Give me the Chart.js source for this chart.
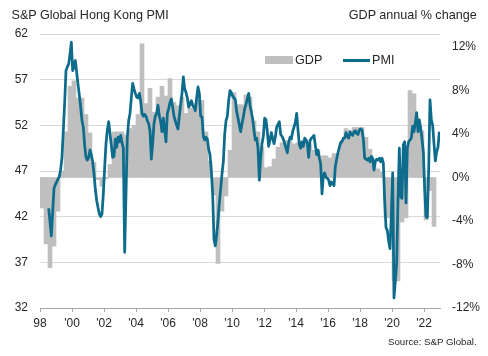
<!DOCTYPE html>
<html>
<head>
<meta charset="utf-8">
<script src="https://cdn.jsdelivr.net/npm/chart.js@4.4.1/dist/chart.umd.min.js"></script>
<style>
html,body{margin:0;padding:0;background:#fff;}
#wrap{position:relative;width:488px;height:356px;overflow:hidden;font-family:"Liberation Sans",Arial,sans-serif;color:#262626;}
#c{position:absolute;left:0;top:0;}
.t{position:absolute;white-space:nowrap;line-height:1;font-size:12.6px;}
.box{position:absolute;}
</style>
</head>
<body>
<div id="wrap">
  <canvas id="c" width="488" height="356"></canvas>
  <div class="t" style="left:11.5px;top:8.5px;">S&amp;P Global Hong Kong PMI</div>
  <div class="t" style="right:11.3px;top:8.5px;">GDP annual % change</div>
  <div class="box" style="left:265px;top:56px;width:28px;height:8px;background:#bfbfbf;"></div>
  <div class="t" style="left:295px;top:54.3px;">GDP</div>
  <div class="box" style="left:343px;top:58.5px;width:27px;height:3px;background:#0d6b8c;"></div>
  <div class="t" style="left:372px;top:54.3px;">PMI</div>
  <div class="t" style="right:11.3px;top:336.8px;font-size:9.7px;">Source: S&amp;P Global.</div>
</div>
<script>
// ---- data ----
// PMI monthly, July 1998 to December 2022
const pmiStartYear = 1998;
const pmiStartMonth = 7;
const pmi1998 = [42.9, 41.5, 39.9, 42.5, 45.1, 45.5];
const pmi1999 = [45.8, 46.1, 46.4, 47.2, 48.5, 51.5, 54.5, 58.0, 58.4, 58.7, 59.8, 61.1];
const pmi2000 = [58.0, 58.4, 59.1, 57.8, 56.5, 55.3, 54.0, 52.5, 51.8, 49.8, 48.5, 48.2];
const pmi2001 = [48.5, 49.3, 48.8, 48.0, 46.7, 45.0, 43.8, 43.0, 42.3, 42.0, 42.3, 44.5];
const pmi2002 = [47.4, 50.0, 51.5, 52.4, 51.1, 49.8, 48.5, 48.6, 50.5, 49.6, 50.7, 50.2];
const pmi2003 = [50.9, 50.1, 49.5, 38.1, 44.5, 50.7, 52.5, 53.3, 55.0, 56.6, 56.0, 55.5];
const pmi2004 = [55.1, 55.0, 55.5, 54.7, 53.3, 53.0, 53.2, 53.0, 52.5, 52.2, 51.4, 48.3];
const pmi2005 = [50.0, 52.2, 53.0, 53.3, 54.2, 53.0, 52.4, 51.3, 52.8, 51.5, 50.2, 53.3];
const pmi2006 = [53.8, 54.5, 54.9, 54.0, 53.0, 52.5, 52.0, 51.6, 53.0, 54.3, 55.5, 57.3];
const pmi2007 = [56.0, 55.6, 55.0, 54.0, 54.3, 54.7, 54.2, 54.0, 53.6, 55.0, 56.2, 55.5];
const pmi2008 = [53.0, 52.9, 50.8, 50.4, 50.7, 50.5, 49.4, 48.8, 47.0, 44.5, 39.5, 38.8];
const pmi2009 = [40.0, 41.5, 43.5, 45.0, 46.7, 48.0, 51.0, 52.5, 53.0, 54.7, 55.8, 55.6];
const pmi2010 = [55.2, 55.0, 54.8, 53.5, 52.8, 52.0, 51.3, 52.2, 52.9, 53.8, 54.3, 54.9];
const pmi2011 = [55.5, 54.2, 53.5, 52.7, 51.4, 50.4, 50.6, 49.5, 46.0, 48.5, 50.0, 50.8];
const pmi2012 = [52.8, 52.6, 51.3, 49.7, 50.4, 51.2, 50.6, 50.0, 50.7, 51.8, 52.1, 52.4];
const pmi2013 = [51.0, 50.8, 50.5, 50.0, 49.5, 49.0, 50.1, 50.7, 50.5, 51.3, 51.8, 52.3];
const pmi2014 = [53.3, 51.5, 49.9, 49.5, 50.2, 49.7, 50.6, 50.4, 50.0, 48.5, 50.3, 50.6];
const pmi2015 = [50.7, 50.9, 49.8, 48.8, 49.3, 48.4, 47.8, 44.5, 46.5, 46.8, 46.3, 46.2];
const pmi2016 = [46.0, 45.4, 45.8, 45.6, 45.4, 47.5, 48.3, 49.0, 49.6, 50.1, 50.2, 50.6];
const pmi2017 = [50.6, 51.2, 50.8, 50.6, 51.3, 51.0, 50.9, 51.3, 51.4, 51.1, 51.0, 51.5];
const pmi2018 = [51.6, 51.5, 50.5, 48.4, 48.3, 48.2, 48.4, 48.0, 48.6, 48.4, 47.1, 48.1];
const pmi2019 = [48.3, 48.2, 48.4, 48.0, 48.4, 47.9, 43.8, 40.8, 40.5, 39.3, 38.5, 42.1];
const pmi2020 = [46.8, 33.1, 34.9, 36.9, 43.9, 49.5, 44.2, 44.0, 49.9, 50.2, 43.5, 49.5];
const pmi2021 = [50.2, 50.4, 50.6, 51.9, 51.3, 52.3, 53.4, 51.3, 52.6, 51.7, 50.5, 49.1];
const pmi2022 = [45.0, 42.0, 41.9, 47.1, 54.8, 52.6, 52.0, 50.0, 48.1, 49.1, 49.6, 51.3];

// GDP annual % change, quarterly, 1998 Q1 to 2022 Q3
const gdpStartYear = 1998;
const gdp1998 = [-2.8, -6.1, -8.3, -6.3];
const gdp1999 = [-3.1, 0.6, 4.2, 8.4];
const gdp2000 = [8.9, 7.3, 7.3, 5.8];
const gdp2001 = [4.1, 1.4, -0.2, -0.8];
const gdp2002 = [-0.1, 1.2, 4.2, 4.2];
const gdp2003 = [4.2, 3.9, 4.5, 4.8];
const gdp2004 = [5.8, 12.3, 6.8, 8.2];
const gdp2005 = [6.0, 7.4, 8.4, 7.5];
const gdp2006 = [9.1, 6.9, 6.6, 7.4];
const gdp2007 = [5.9, 6.4, 6.8, 7.1];
const gdp2008 = [7.1, 4.2, 1.5, -1.6];
const gdp2009 = [-7.9, -3.1, -1.7, 2.5];
const gdp2010 = [7.8, 6.7, 6.7, 7.6];
const gdp2011 = [7.4, 5.2, 4.2, 2.8];
const gdp2012 = [0.9, 1.0, 1.7, 2.8];
const gdp2013 = [3.2, 3.4, 3.3, 3.1];
const gdp2014 = [3.2, 3.3, 3.5, 3.0];
const gdp2015 = [2.5, 2.5, 2.0, 2.0];
const gdp2016 = [1.8, 2.2, 2.2, 3.4];
const gdp2017 = [4.5, 4.3, 4.6, 4.6];
const gdp2018 = [4.6, 3.7, 2.6, 1.5];
const gdp2019 = [0.8, 0.5, -3.7, -3.7];
const gdp2020 = [-9.5, -9.5, -4.1, -3.7];
const gdp2021 = [8.0, 7.7, 5.2, 4.3];
const gdp2022 = [-3.9, -1.2, -4.5];

// axis ticks
const yearTicks = [1998, 2000, 2002, 2004, 2006, 2008, 2010, 2012, 2014, 2016, 2018, 2020, 2022];
const yearLabels = ["98", "'00", "'02", "'04", "'06", "'08", "'10", "'12", "'14", "'16", "'18", "'20", "'22"];
const pmiTicks = [32, 37, 42, 47, 52, 57, 62];
const gdpTicks = [-12, -8, -4, 0, 4, 8, 12];

// ---- build ----
const pmiValues = [].concat(pmi1998, pmi1999, pmi2000, pmi2001, pmi2002, pmi2003, pmi2004,
  pmi2005, pmi2006, pmi2007, pmi2008, pmi2009, pmi2010, pmi2011, pmi2012, pmi2013, pmi2014,
  pmi2015, pmi2016, pmi2017, pmi2018, pmi2019, pmi2020, pmi2021, pmi2022);
const gdpValues = [].concat(gdp1998, gdp1999, gdp2000, gdp2001, gdp2002, gdp2003, gdp2004,
  gdp2005, gdp2006, gdp2007, gdp2008, gdp2009, gdp2010, gdp2011, gdp2012, gdp2013, gdp2014,
  gdp2015, gdp2016, gdp2017, gdp2018, gdp2019, gdp2020, gdp2021, gdp2022);

const pmiData = pmiValues.map((v, i) => ({ x: pmiStartYear + (pmiStartMonth - 1 + i + 0.5) / 12, y: v }));
const gdpData = gdpValues.map((v, i) => ({ x: gdpStartYear + (i + 0.5) / 4, y: v }));

const FONT = { family: '"Liberation Sans", Arial, sans-serif', size: 12 };
const TXT = '#262626';

new Chart(document.getElementById('c'), {
  type: 'line',
  data: {
    datasets: [
      {
        type: 'line',
        label: 'PMI',
        data: pmiData,
        xAxisID: 'x',
        yAxisID: 'y',
        borderColor: '#0d6b8c',
        borderWidth: 2.75,
        pointRadius: 0,
        tension: 0,
        borderJoinStyle: 'round',
        fill: false,
        order: 0
      },
      {
        type: 'bar',
        label: 'GDP',
        data: gdpData,
        xAxisID: 'x',
        yAxisID: 'y2',
        backgroundColor: '#bfbfbf',
        borderWidth: 0,
        barPercentage: 1.0,
        categoryPercentage: 1.0,
        grouped: false,
        order: 1
      }
    ]
  },
  options: {
    responsive: false,
    devicePixelRatio: 1,
    animation: false,
    layout: { padding: { top: 34, left: 0, right: 0, bottom: 0 } },
    plugins: { legend: { display: false }, tooltip: { enabled: false }, title: { display: false } },
    scales: {
      x: {
        type: 'linear',
        position: 'bottom',
        min: 1998,
        max: 2023,
        offset: false,
        afterBuildTicks: s => { s.ticks = yearTicks.map(v => ({ value: v })); },
        afterFit: s => { s.height = 48; },
        grid: { offset: false, drawOnChartArea: false, drawTicks: true, tickLength: 4, color: '#a6a6a6', lineWidth: 1 },
        border: { display: true, color: '#a6a6a6', width: 1 },
        ticks: {
          autoSkip: false, maxRotation: 0, minRotation: 0, padding: 4,
          font: FONT, color: TXT,
          callback: (v, i) => yearLabels[i]
        }
      },
      y: {
        type: 'linear',
        position: 'left',
        min: 32,
        max: 62,
        afterBuildTicks: s => { s.ticks = pmiTicks.map(v => ({ value: v })); },
        afterFit: s => { s.width = 40; },
        grid: { color: '#d9d9d9', lineWidth: 1, drawTicks: false },
        border: { display: false },
        ticks: { padding: 12, font: FONT, color: TXT }
      },
      y2: {
        type: 'linear',
        position: 'right',
        min: -12,
        max: 13.2,
        afterBuildTicks: s => { s.ticks = gdpTicks.map(v => ({ value: v })); },
        afterFit: s => { s.width = 48; },
        grid: { display: false, drawTicks: false },
        border: { display: false },
        ticks: { padding: 12, font: FONT, color: TXT, callback: v => v + '%' }
      }
    }
  }
});
</script>
</body>
</html>
